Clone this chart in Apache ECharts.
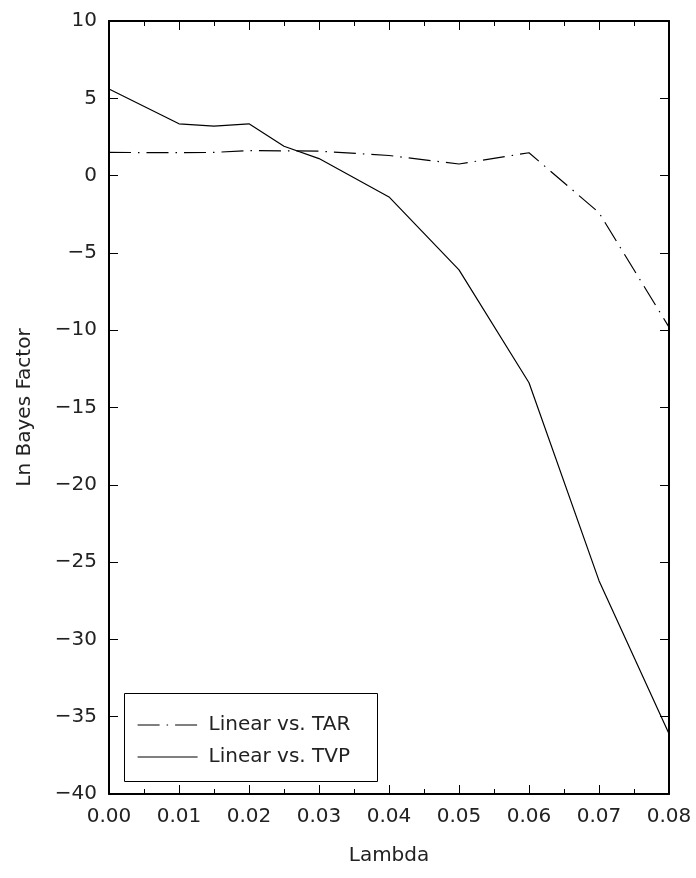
<!DOCTYPE html>
<html lang="en">
<head>
    <meta charset="UTF-8">
    <title>Ln Bayes Factor</title>
    <script type="text/javascript" src="https://cdn.jsdelivr.net/npm/echarts@6/dist/echarts.min.js"></script>
</head>
<body style="margin:0">
<div id="main" style="width: 696px;height: 878px"></div>

<script>
    var lambda = [0, 0.01, 0.015, 0.02, 0.025, 0.03, 0.04, 0.05, 0.06, 0.07, 0.08];
    var tarValues = [1.5, 1.48, 1.5, 1.62, 1.6, 1.58, 1.3, 0.75, 1.48, -2.4, -9.8];
    var tvpValues = [5.6, 3.35, 3.2, 3.35, 1.9, 1.1, -1.38, -6.1, -13.4, -26.2, -36.1];
    var xTicks = ['0.00', '0.01', '0.02', '0.03', '0.04', '0.05', '0.06', '0.07', '0.08'];
    var yTicks = [-40, -35, -30, -25, -20, -15, -10, -5, 0, 5, 10];

    function pairs(xs, ys) {
        var out = [];
        for (var i = 0; i < xs.length; i++) out.push([xs[i], ys[i]]);
        return out;
    }

    var chartDom = document.getElementById('main');
    var myChart = echarts.init(chartDom);
    var font = 'DejaVu Sans';
    var txt = '#222';
    var tarDash = [22, 7, 1.5, 7];

    var frameX = {
        min: 0, max: 0.08, interval: 0.01,
        axisLine: {onZero: false, lineStyle: {color: '#000', width: 2}},
        axisTick: {inside: true, length: 9, lineStyle: {color: '#000', width: 1}},
        minorTick: {show: true, splitNumber: 2, length: 5, lineStyle: {color: '#000', width: 1}},
        splitLine: {show: false}
    };
    var frameY = {
        min: yTicks[0], max: yTicks[yTicks.length - 1], interval: 5,
        axisLine: {onZero: false, lineStyle: {color: '#000', width: 2}},
        axisTick: {inside: true, length: 9, lineStyle: {color: '#000', width: 1}},
        splitLine: {show: false}
    };

    var option = {
        animation: false,
        backgroundColor: '#fff',
        grid: {left: 109, right: 27, top: 21, bottom: 84},
        xAxis: [
            Object.assign({}, frameX, {
                type: 'value', position: 'bottom',
                name: 'Lambda', nameLocation: 'middle', nameGap: 52,
                nameTextStyle: {fontFamily: font, fontSize: 20, color: txt},
                axisLabel: {
                    fontFamily: font, fontSize: 20, color: txt, margin: 13,
                    formatter: function (v) { return xTicks[Math.round(v * 100)]; }
                }
            }),
            Object.assign({}, frameX, {type: 'value', position: 'top', axisLabel: {show: false}})
        ],
        yAxis: [
            Object.assign({}, frameY, {
                type: 'value', position: 'left',
                name: 'Ln Bayes Factor', nameLocation: 'middle', nameGap: 74, nameRotate: 90,
                nameTextStyle: {fontFamily: font, fontSize: 20, color: txt},
                axisLabel: {
                    fontFamily: font, fontSize: 20, color: txt, margin: 12,
                    formatter: function (v) { return String(v).replace('-', '\u2212'); }
                }
            }),
            Object.assign({}, frameY, {type: 'value', position: 'right', axisLabel: {show: false}})
        ],
        legend: {
            orient: 'vertical',
            left: 137, top: 715,
            itemWidth: 60, itemHeight: 20, itemGap: 12,
            padding: 0,
            itemStyle: {opacity: 0},
            textStyle: {fontFamily: font, fontSize: 20, color: txt, padding: [0, 0, 0, 6]},
            data: [
                {name: 'Linear vs. TAR', lineStyle: {type: tarDash, width: 1.2, color: '#000'}},
                {name: 'Linear vs. TVP', lineStyle: {type: 'solid', width: 1.2, color: '#000'}}
            ]
        },
        graphic: [{
            type: 'rect', left: 124, top: 693, z: 0,
            shape: {width: 253, height: 88},
            style: {fill: '#fff', stroke: '#000', lineWidth: 1}
        }],
        series: [
            {
                name: 'Linear vs. TAR', type: 'line', symbol: 'none',
                data: pairs(lambda, tarValues),
                lineStyle: {color: '#000', width: 1.2, type: tarDash},
                itemStyle: {color: '#000'}
            },
            {
                name: 'Linear vs. TVP', type: 'line', symbol: 'none',
                data: pairs(lambda, tvpValues),
                lineStyle: {color: '#000', width: 1.2},
                itemStyle: {color: '#000'}
            }
        ]
    };

    myChart.setOption(option);
</script>
</body>
</html>
